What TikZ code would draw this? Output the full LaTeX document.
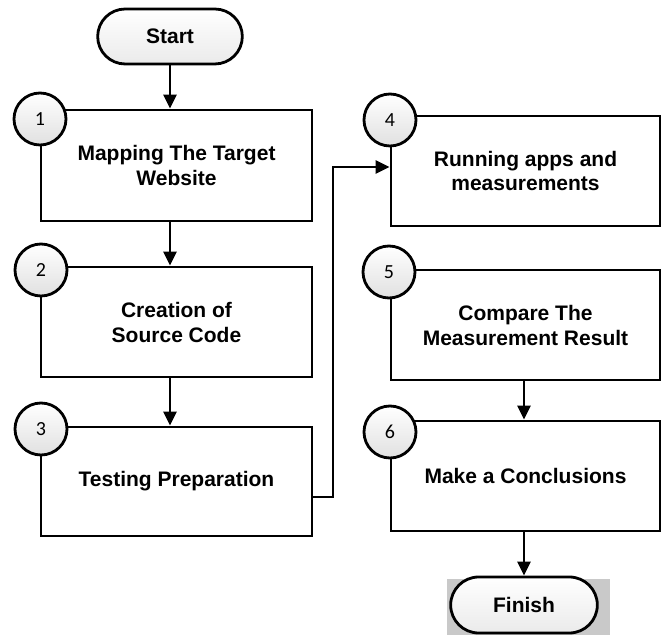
\documentclass[tikz,border=0pt]{standalone}
\usepackage{fontspec}
\setmainfont{Liberation Sans}
\newfontfamily\numfont{Carlito}
\usetikzlibrary{arrows.meta,shapes.misc}
\begin{document}
\begin{tikzpicture}[x=0.5pt,y=-0.5pt,
  stepbox/.style={draw, line width=1.4pt, minimum height=55pt, align=center,
    font=\fontsize{10.5}{12.5}\selectfont\bfseries, inner sep=2pt},
  lbox/.style={stepbox, minimum width=135.5pt},
  rbox/.style={stepbox, minimum width=134.5pt},
  term/.style={draw, line width=1.4pt, rounded rectangle, top color=white, bottom color=black!8,
    minimum width=79pt, minimum height=27.5pt, font=\fontsize{10.5}{12.5}\selectfont\bfseries},
  num/.style={draw, line width=1.4pt, circle, minimum size=26pt, inner sep=0pt,
    top color=white, bottom color=black!12, font=\numfont\fontsize{10}{12}\selectfont},
  arr/.style={line width=1.4pt, -{Triangle[length=7pt,width=6.5pt]}}
]
\useasboundingbox (0,0) rectangle (664,635);
% gray backdrop of Finish
\fill[black!21] (447,579) rectangle (610,635);
% terminals
\node[term] (start) at (170,36.5) {Start};
\node[term, minimum width=80pt, minimum height=28pt] (finish) at (524,605) {Finish};
% boxes
\node[lbox, minimum height=55.5pt] (b1) at (176.5,165.5) {Mapping The Target\\Website};
\node[lbox] (b2) at (176.5,322) {Creation of\\Source Code};
\node[lbox, minimum height=54.5pt] (b3) at (176.5,481.5) {Testing Preparation};
\node[rbox] (b4) at (525.5,171) {Running apps and\\measurements};
\node[rbox] (b5) at (525.5,325) {Compare The\\Measurement Result};
\node[rbox] (b6) at (525.5,476) {Make a Conclusions};
% number circles
\node[num] (n1) at (40,119) {1};
\node[num] (n2) at (41,270) {2};
\node[num] (n3) at (41,429) {3};
\node[num] (n4) at (390,120) {4};
\node[num] (n5) at (389,272) {5};
\node[num] (n6) at (390,432) {6};
% connectors
\coordinate (c1) at (333,497);
\coordinate (c2) at (333,167);
\draw[arr] (start.south) -- (start.south |- b1.north);
\draw[arr] (b1.south -| start) -- (b2.north -| start);
\draw[arr] (b2.south -| start) -- (b3.north -| start);
\draw[arr] (b3.east |- c1) -- (c1) -- (c2) -- (b4.west |- c2);
\draw[arr] (b5.south -| finish) -- (b6.north -| finish);
\draw[arr] (b6.south -| finish) -- (finish.north);
\end{tikzpicture}
\end{document}
